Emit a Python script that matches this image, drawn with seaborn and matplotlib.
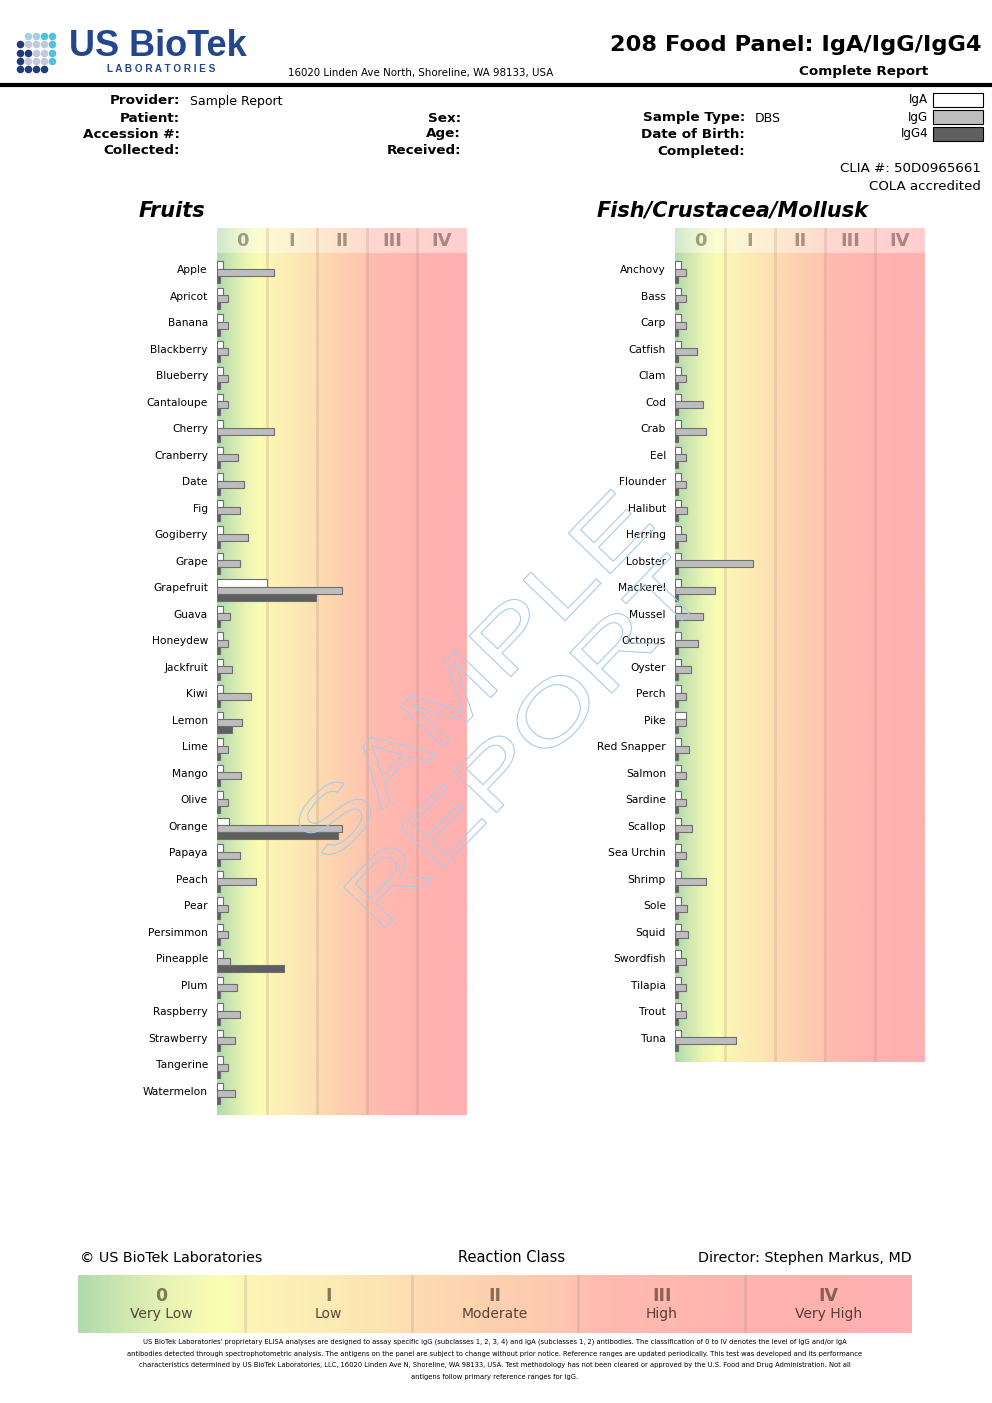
import numpy as np
import pandas as pd
import matplotlib
matplotlib.use('Agg')
import matplotlib.pyplot as plt
import matplotlib.colors as mcolors
from matplotlib.patches import Rectangle, PathPatch
from matplotlib.lines import Line2D
from matplotlib.textpath import TextPath
from matplotlib.font_manager import FontProperties
from matplotlib.transforms import Affine2D, ScaledTranslation
import seaborn as sns

# data (values in reaction-class units, 0..5)
fruits = ['Apple', 'Apricot', 'Banana', 'Blackberry', 'Blueberry', 'Cantaloupe', 'Cherry',
          'Cranberry', 'Date', 'Fig', 'Gogiberry', 'Grape', 'Grapefruit', 'Guava', 'Honeydew',
          'Jackfruit', 'Kiwi', 'Lemon', 'Lime', 'Mango', 'Olive', 'Orange', 'Papaya', 'Peach',
          'Pear', 'Persimmon', 'Pineapple', 'Plum', 'Raspberry', 'Strawberry', 'Tangerine',
          'Watermelon']
fruit_iga = [0.11, 0.11, 0.11, 0.11, 0.11, 0.11, 0.11, 0.11, 0.11, 0.11, 0.11, 0.11, 1.0, 0.11,
             0.11, 0.11, 0.11, 0.11, 0.11, 0.11, 0.11, 0.23, 0.11, 0.11, 0.11, 0.11, 0.11, 0.11,
             0.11, 0.11, 0.11, 0.11]
fruit_igg = [1.13, 0.21, 0.21, 0.21, 0.21, 0.21, 1.13, 0.41, 0.53, 0.45, 0.61, 0.45, 2.49, 0.25,
             0.21, 0.30, 0.68, 0.50, 0.21, 0.48, 0.21, 2.49, 0.45, 0.77, 0.21, 0.21, 0.25, 0.40,
             0.46, 0.36, 0.21, 0.36]
fruit_igg4 = [0.05, 0.05, 0.05, 0.05, 0.05, 0.05, 0.05, 0.05, 0.05, 0.05, 0.05, 0.05, 1.97, 0.05,
              0.05, 0.05, 0.05, 0.30, 0.05, 0.05, 0.05, 2.41, 0.05, 0.05, 0.05, 0.05, 1.33, 0.05,
              0.05, 0.05, 0.05, 0.05]

fish = ['Anchovy', 'Bass', 'Carp', 'Catfish', 'Clam', 'Cod', 'Crab', 'Eel', 'Flounder', 'Halibut',
        'Herring', 'Lobster', 'Mackerel', 'Mussel', 'Octopus', 'Oyster', 'Perch', 'Pike',
        'Red Snapper', 'Salmon', 'Sardine', 'Scallop', 'Sea Urchin', 'Shrimp', 'Sole', 'Squid',
        'Swordfish', 'Tilapia', 'Trout', 'Tuna']
fish_iga = [0.11, 0.11, 0.11, 0.11, 0.11, 0.11, 0.11, 0.11, 0.11, 0.11, 0.11, 0.11, 0.11, 0.11,
            0.11, 0.11, 0.11, 0.21, 0.11, 0.11, 0.11, 0.11, 0.11, 0.11, 0.11, 0.11, 0.11, 0.11,
            0.11, 0.11]
fish_igg = [0.21, 0.21, 0.21, 0.43, 0.21, 0.55, 0.61, 0.21, 0.21, 0.23, 0.22, 1.55, 0.79, 0.55,
            0.45, 0.31, 0.22, 0.21, 0.27, 0.21, 0.21, 0.33, 0.21, 0.61, 0.23, 0.25, 0.21, 0.21,
            0.21, 1.21]
fish_igg4 = [0.05, 0.05, 0.05, 0.05, 0.05, 0.05, 0.05, 0.05, 0.05, 0.05, 0.05, 0.05, 0.05, 0.05,
             0.05, 0.05, 0.05, 0.05, 0.05, 0.05, 0.05, 0.05, 0.05, 0.05, 0.05, 0.05, 0.05, 0.05,
             0.05, 0.05]

classes = ['0', 'I', 'II', 'III', 'IV']
class_names = ['Very Low', 'Low', 'Moderate', 'High', 'Very High']
types = ['IgA', 'IgG', 'IgG4']
pal = {'IgA': '#ffffff', 'IgG': '#bdbdbd', 'IgG4': '#5f5f5f'}

sns.set_style('white')
plt.rcParams['font.family'] = ['DejaVu Sans']
plt.rcParams['text.color'] = 'black'
plt.rcParams['ytick.color'] = 'black'

W, H = 992, 1403
fig = plt.figure(figsize=(W / 100, H / 100), dpi=100)


def fx(x):
    return x / W


def fy(y):
    return 1 - y / H


# background colour ramp of the reaction classes
stops = [(0.0, '#b1daad'), (0.05, '#cde6b1'), (0.11, '#eaf4b4'), (0.17, '#fbfdb3'),
         (0.2, '#fcf5b5'), (0.38, '#fde2b3'), (0.42, '#fdd9b1'), (0.58, '#fec7b0'),
         (0.62, '#ffbcb0'), (0.8, '#ffb3b0'), (1.0, '#ffb0b0')]
cmap = mcolors.LinearSegmentedColormap.from_list('react', stops)
light = [(p, tuple(0.6 * np.array(mcolors.to_rgb(c)) + 0.4)) for p, c in stops]
cmap_light = mcolors.LinearSegmentedColormap.from_list('react_l', light)
ramp = np.linspace(0, 1, 600)[None, :]


def class_bg(ax, cm, y0, y1):
    ax.imshow(ramp, extent=[0, 5, y0, y1], cmap=cm, aspect='auto', zorder=0,
              interpolation='bilinear')
    for b in range(1, 5):
        ax.axvline(b, color='#9c7c6c', alpha=0.2, lw=2, zorder=1)
    ax.set_xlim(0, 5)


def panel(left, bottom, height, names, iga, igg, igg4):
    df = pd.DataFrame({'food': names, 'IgA': iga, 'IgG': igg, 'IgG4': igg4})
    df = df.melt(id_vars='food', value_vars=types, var_name='type', value_name='value')
    ax = fig.add_axes([left, bottom, fx(250), height])
    n = len(names)
    top, bot = -0.72, n - 1 + 0.81
    class_bg(ax, cmap, bot, top)
    sns.barplot(data=df, x='value', y='food', hue='type', hue_order=types, order=names,
                palette=pal, orient='h', width=0.8, edgecolor='#6e6e6e', linewidth=0.8,
                legend=False, ax=ax, zorder=3)
    ax.set_ylim(bot, top)
    ax.set_xlim(0, 5)
    ax.set_xlabel('')
    ax.set_ylabel('')
    ax.set_xticks([])
    ax.tick_params(axis='y', length=0, pad=6.5, labelsize=7.7, labelcolor='black')
    # labels sit a little above the bar group
    up = ScaledTranslation(0, 0.03, fig.dpi_scale_trans)
    for lab in ax.get_yticklabels():
        lab.set_transform(lab.get_transform() + up)
    sns.despine(ax=ax, left=True, bottom=True)

    # class header band above the bars
    hax = fig.add_axes([left, fy(253), fx(250), 25 / H])
    class_bg(hax, cmap_light, 0, 1)
    hax.set_ylim(0, 1)
    for i, c in enumerate(classes):
        hax.text(i + 0.5, 0.5, c, ha='center', va='center', fontsize=13, fontweight='bold',
                 color='#3a2e22', alpha=0.45)
    hax.axis('off')
    return ax


panel(fx(217), fy(1115), 862 / H, fruits, fruit_iga, fruit_igg, fruit_igg4)
panel(fx(675), fy(1062), 809 / H, fish, fish_iga, fish_igg, fish_igg4)

fig.text(fx(172), fy(211), 'Fruits', ha='center', va='center', fontsize=15,
         fontweight='bold', fontstyle='italic')
fig.text(fx(733), fy(211), 'Fish/Crustacea/Mollusk', ha='center', va='center', fontsize=15,
         fontweight='bold', fontstyle='italic')

# header: logo
lax = fig.add_axes([fx(12), fy(76), fx(50), 46 / H])
lax.set_xlim(12, 62)
lax.set_ylim(76, 30)
lax.axis('off')
navy, grey, cyan, lblue = '#1f3d7a', '#c3c9dc', '#4ec3df', '#9fd4e8'
dots = [[None, lblue, lblue, cyan, cyan],
        [navy, grey, grey, grey, cyan],
        [navy, navy, grey, grey, cyan],
        [navy, grey, grey, grey, cyan],
        [navy, navy, navy, navy, None]]
for r, row in enumerate(dots):
    for c, col in enumerate(row):
        if col:
            lax.scatter(20 + c * 8.0, 36 + r * 8.3, s=30, color=col, linewidths=0)
fig.text(fx(69), fy(47), 'US BioTek', fontsize=26, fontweight='bold', color='#23478c',
         family='Liberation Sans', va='center', ha='left')
fig.text(fx(161), fy(69), 'L A B O R A T O R I E S', fontsize=7.2, fontweight='bold',
         color='#23478c', family='Liberation Sans', va='center', ha='center')
fig.text(fx(288), fy(73), '16020 Linden Ave North, Shoreline, WA 98133, USA', fontsize=7.4,
         va='center', ha='left')
fig.text(fx(981), fy(45), '208 Food Panel: IgA/IgG/IgG4', fontsize=16.2, fontweight='bold',
         va='center', ha='right')
fig.text(fx(928), fy(72), 'Complete Report', fontsize=9.7, fontweight='bold',
         va='center', ha='right')
fig.add_artist(Line2D([0, 1], [fy(85), fy(85)], transform=fig.transFigure, color='black', lw=3))

# patient info block
info = [(180, 101, 'Provider:', 'Sample Report'), (180, 118, 'Patient:', ''),
        (180, 134, 'Accession #:', ''), (180, 151, 'Collected:', ''),
        (461, 118, 'Sex:', ''), (461, 134, 'Age:', ''), (461, 151, 'Received:', ''),
        (745, 118, 'Sample Type:', 'DBS'), (745, 134, 'Date of Birth:', ''),
        (745, 151, 'Completed:', '')]
for x, y, lab, val in info:
    fig.text(fx(x), fy(y), lab, fontsize=9.7, fontweight='bold', ha='right', va='center')
    if val:
        fig.text(fx(x + 10), fy(y), val, fontsize=9, ha='left', va='center')

# legend boxes
for i, t in enumerate(types):
    y = 100 + i * 17
    fig.text(fx(928), fy(y), t, fontsize=8.6, ha='right', va='center')
    fig.add_artist(Rectangle((fx(933), fy(y + 6.5)), fx(50), 13 / H, transform=fig.transFigure,
                             facecolor=pal[t], edgecolor='black', lw=0.8))
fig.text(fx(981), fy(169), 'CLIA #: 50D0965661', fontsize=9.6, ha='right', va='center')
fig.text(fx(981), fy(186), 'COLA accredited', fontsize=9.6, ha='right', va='center')

# watermark: outlined text stretched along a 46 degree line
to_fig = Affine2D().scale(1 / W, 1 / H) + fig.transFigure
wm_font = FontProperties(family='Liberation Sans')
for txt, x, y, length in [('SAMPLE', 472, 675, 465), ('REPORT', 526, 740, 465)]:
    tp = TextPath((0, 0), txt, size=1, prop=wm_font)
    ext = tp.get_extents()
    place = (Affine2D().translate(-(ext.x0 + ext.x1) / 2, -(ext.y0 + ext.y1) / 2)
             .scale(length / ext.width, 60 / ext.height).rotate_deg(46).translate(x, H - y))
    fig.add_artist(PathPatch(tp, transform=place + to_fig, facecolor='none',
                             edgecolor='#a9cbea', lw=0.8, zorder=10))

# footer reaction class legend
fig.text(fx(80), fy(1258), '\u00a9 US BioTek Laboratories', fontsize=10.3, ha='left', va='center')
fig.text(fx(512), fy(1258), 'Reaction Class', fontsize=10.5, ha='center', va='center')
fig.text(fx(912), fy(1258), 'Director: Stephen Markus, MD', fontsize=10.3, ha='right',
         va='center')
fax = fig.add_axes([fx(78), fy(1333), fx(834), 58 / H])
class_bg(fax, cmap, 0, 1)
fax.set_ylim(0, 1)
for i, (c, nm) in enumerate(zip(classes, class_names)):
    fax.text(i + 0.5, 0.64, c, ha='center', va='center', fontsize=12.5, fontweight='bold',
             color='#3a2818', alpha=0.6)
    fax.text(i + 0.5, 0.32, nm, ha='center', va='center', fontsize=10, color='#2e2018',
             alpha=0.8)
fax.axis('off')

disclaimer = [
    "US BioTek Laboratories' proprietary ELISA analyses are designed to assay specific IgG (subclasses 1, 2, 3, 4) and IgA (subclasses 1, 2) antibodies. The classification of 0 to IV denotes the level of IgG and/or IgA",
    "antibodies detected through spectrophotometric analysis. The antigens on the panel are subject to change without prior notice. Reference ranges are updated periodically. This test was developed and its performance",
    "characteristics determined by US BioTek Laboratories, LLC, 16020 Linden Ave N, Shoreline, WA 98133, USA. Test methodology has not been cleared or approved by the U.S. Food and Drug Administration. Not all",
    "antigens follow primary reference ranges for IgG."]
for i, line in enumerate(disclaimer):
    fig.text(fx(495), fy(1342 + i * 11.7), line, fontsize=4.9, ha='center', va='center')

fig.savefig('out.png', dpi=100)
